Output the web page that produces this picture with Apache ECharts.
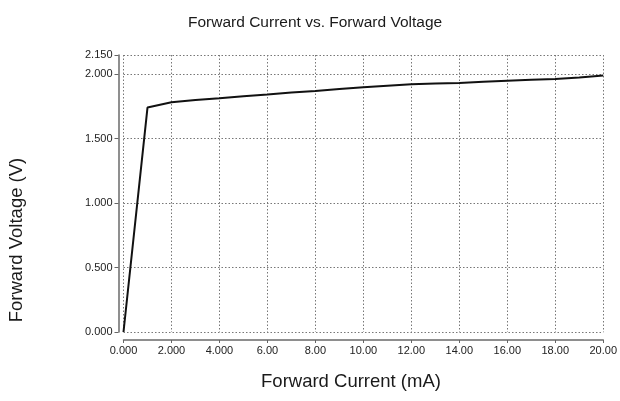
<!DOCTYPE html>
<html>
<head>
<meta charset="utf-8">
<script src="https://cdn.jsdelivr.net/npm/echarts@6/dist/echarts.min.js"></script>
<style>
  html, body { margin: 0; padding: 0; background: #fff; }
  #chart { width: 620px; height: 401px; }
</style>
</head>
<body>
<div id="chart"></div>
<script>
// Forward current (mA) and measured forward voltage (V)
const currentMA = [0, 1, 2, 3, 4, 5, 6, 7, 8, 9, 10, 11, 12, 13, 14, 15, 16, 17, 18, 19, 20];
const voltageV = [0, 1.742, 1.783, 1.800, 1.814, 1.830, 1.843, 1.858, 1.871, 1.886, 1.900, 1.912, 1.923, 1.928, 1.932, 1.942, 1.951, 1.958, 1.964, 1.975, 1.990];

// Tick positions and their printed labels
const xTickValues = [0, 2, 4, 6, 8, 10, 12, 14, 16, 18, 20];
const xTickLabels = ['0.000', '2.000', '4.000', '6.00', '8.00', '10.00', '12.00', '14.00', '16.00', '18.00', '20.00'];
const yTickValues = [0, 0.5, 1.0, 1.5, 2.0, 2.15];
const yTickLabels = ['0.000', '0.500', '1.000', '1.500', '2.000', '2.150'];

const chartTitle = 'Forward Current vs. Forward Voltage';
const xTitle = 'Forward Current (mA)';
const yTitle = 'Forward Voltage (V)';

const FONT = "'Liberation Sans', Arial, sans-serif";
const labelFor = (values, labels) => v => {
  const i = values.findIndex(t => Math.abs(t - v) < 1e-6);
  return i >= 0 ? labels[i] : '';
};

const gridLine = { show: true, lineStyle: { color: '#777', width: 1, type: [1.5, 2] } };
const axisStroke = { color: '#6a6a6a', width: 1.5 };

const chart = echarts.init(document.getElementById('chart'), null, { renderer: 'canvas' });
chart.setOption({
  animation: false,
  backgroundColor: '#ffffff',
  title: {
    text: chartTitle,
    left: 183,
    top: 10,
    textStyle: { fontFamily: FONT, fontSize: 15.5, fontWeight: 'normal', color: '#1a1a1a' }
  },
  grid: { left: 123.5, right: 14.5, top: 55, bottom: 69, containLabel: false },
  xAxis: {
    type: 'value',
    min: 0,
    max: 20,
    offset: 8,
    axisLine: { show: true, onZero: false, lineStyle: axisStroke },
    axisTick: { show: true, length: 3, customValues: xTickValues, lineStyle: { color: '#666' } },
    axisLabel: {
      customValues: xTickValues,
      formatter: labelFor(xTickValues, xTickLabels),
      margin: 5,
      fontFamily: FONT,
      fontSize: 11,
      color: '#222'
    },
    splitLine: gridLine
  },
  yAxis: {
    type: 'value',
    min: 0,
    max: 2.15,
    offset: 5,
    axisLine: { show: true, onZero: false, lineStyle: axisStroke },
    axisTick: { show: true, length: 4, customValues: yTickValues, lineStyle: { color: '#666' } },
    axisLabel: {
      customValues: yTickValues,
      formatter: labelFor(yTickValues, yTickLabels),
      margin: 6,
      fontFamily: FONT,
      fontSize: 11,
      color: '#222'
    },
    splitLine: gridLine
  },
  graphic: [{
    type: 'text',
    x: 351,
    y: 382,
    style: {
      text: xTitle,
      align: 'center',
      verticalAlign: 'middle',
      fontFamily: FONT,
      fontSize: 18.5,
      fill: '#1a1a1a'
    }
  }, {
    type: 'text',
    x: 17,
    y: 240,
    rotation: Math.PI / 2,
    style: {
      text: yTitle,
      align: 'center',
      verticalAlign: 'middle',
      fontFamily: FONT,
      fontSize: 18.5,
      fill: '#1a1a1a'
    }
  }],
  series: [{
    type: 'line',
    data: currentMA.map((c, i) => [c, voltageV[i]]),
    showSymbol: false,
    lineStyle: { color: '#111', width: 2 },
    clip: false
  }]
});
</script>
</body>
</html>
